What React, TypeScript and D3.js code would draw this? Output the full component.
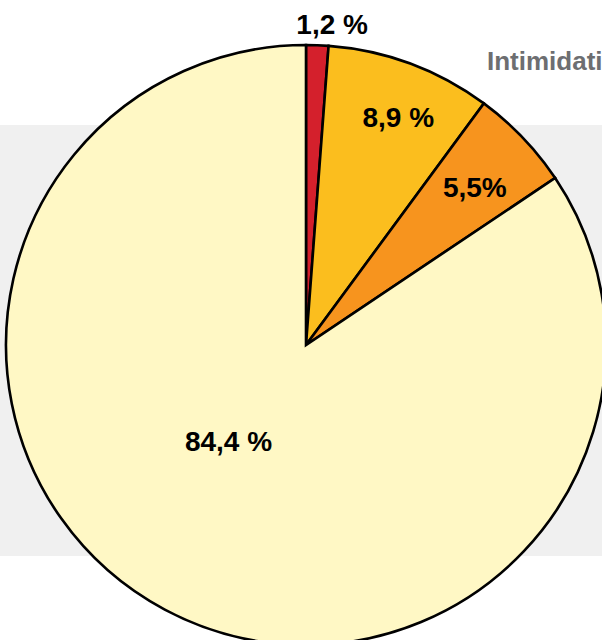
import { useRef, useEffect } from "react";
import * as d3 from "d3";

const LABELS = ["1,2 %", "8,9 %", "5,5%", "84,4 %"];
const VALUES = [1.2, 8.9, 5.5, 84.4];
const COLORS = ["#d4202c", "#fbbe1e", "#f7941e", "#fff8c5"];
// where each label sits: fraction of the radius, and a nudge of the angle in degrees
const LABEL_RADIUS = [1.073, 0.82, 0.77, 0.41];
const LABEL_SHIFT = [2.5, 1.7, 0.7, 11];

// the source crops this heading at the right edge
const TITLE = "Intimidation";

const WIDTH = 602;
const HEIGHT = 640;

export default function App() {
  const svgRef = useRef<SVGSVGElement>(null);

  useEffect(() => {
    if (!svgRef.current) return;
    const svg = d3.select(svgRef.current);
    svg.selectAll("*").remove();

    const cx = 306;
    const cy = 345;
    const radius = 300;

    // gray band behind the pie
    svg
      .append("rect")
      .attr("x", 0)
      .attr("y", 125)
      .attr("width", WIDTH)
      .attr("height", 431)
      .attr("fill", "#f0f0f0");

    svg
      .append("text")
      .attr("x", 487)
      .attr("y", 70)
      .attr("fill", "#6d6e71")
      .attr("font-size", "26px")
      .attr("font-weight", "bold")
      .attr("font-family", "'Liberation Sans', Arial, sans-serif")
      .text(TITLE);

    const pie = d3
      .pie<number>()
      .sort(null)
      .startAngle(0)
      .endAngle(Math.PI * 2)
      .value((d) => d);
    const arcs = pie(VALUES);

    const arc = d3.arc<d3.PieArcDatum<number>>().innerRadius(0).outerRadius(radius);

    const g = svg.append("g").attr("transform", `translate(${cx},${cy})`);

    g.selectAll("path")
      .data(arcs)
      .join("path")
      .attr("d", arc)
      .attr("fill", (_, i) => COLORS[i])
      .attr("stroke", "#000")
      .attr("stroke-width", 2.6)
      .attr("stroke-linejoin", "miter");

    const labelAngle = (d: d3.PieArcDatum<number>, i: number) =>
      (d.startAngle + d.endAngle) / 2 + (LABEL_SHIFT[i] * Math.PI) / 180;

    g.selectAll("text")
      .data(arcs)
      .join("text")
      .attr("x", (d, i) => Math.sin(labelAngle(d, i)) * radius * LABEL_RADIUS[i])
      .attr("y", (d, i) => -Math.cos(labelAngle(d, i)) * radius * LABEL_RADIUS[i])
      .attr("dy", "0.36em")
      .attr("text-anchor", "middle")
      .attr("fill", "#000")
      .attr("font-size", "28px")
      .attr("font-weight", "bold")
      .attr("font-family", "'Liberation Sans', Arial, sans-serif")
      .text((_, i) => LABELS[i]);
  }, []);

  return (
    <svg
      ref={svgRef}
      width={WIDTH}
      height={HEIGHT}
      style={{ position: "absolute", left: 0, top: 0, background: "#fff" }}
    />
  );
}
